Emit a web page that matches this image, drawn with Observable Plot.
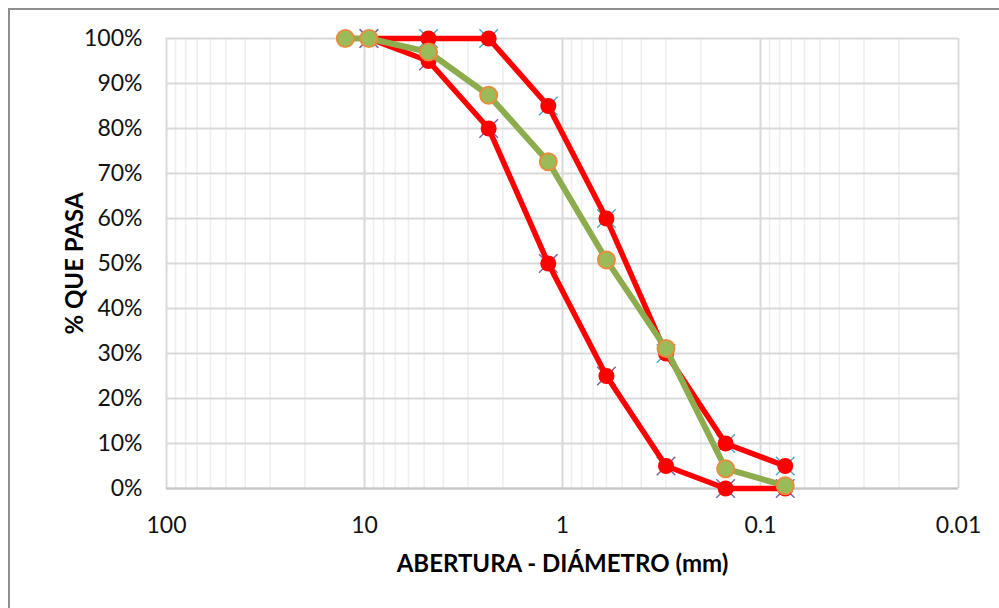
<!DOCTYPE html>
<html>
<head>
<meta charset="utf-8">
<script src="https://cdn.jsdelivr.net/npm/d3@7"></script>
<script src="https://cdn.jsdelivr.net/npm/@observablehq/plot@0.6"></script>
<style>
  html, body { margin: 0; padding: 0; background: #fff; overflow: hidden; }
  #wrap { position: relative; width: 999px; height: 608px; overflow: hidden; }
  #border { position: absolute; left: 8px; top: 8px; width: 1100px; height: 800px; border: 2px solid #8e8e8e; box-sizing: border-box; pointer-events: none; }
  #chart { position: absolute; left: 0; top: 0; }
</style>
</head>
<body>
<div id="wrap"><div id="chart"></div><div id="border"></div></div>
<script>
// Sample gradation (sieve opening mm, % passing)
const sampleSizes = [12.5, 9.5, 4.75, 2.36, 1.18, 0.6, 0.3, 0.15, 0.075];
const samplePass = [100, 100, 97.0, 87.4, 72.6, 50.8, 31.1, 4.4, 0.6];
// Specification limits
const limitSizes = [9.5, 4.75, 2.36, 1.18, 0.6, 0.3, 0.15, 0.075];
const upperLimit = [100, 100, 100, 85, 60, 30, 10, 5];
const lowerLimit = [100, 95, 80, 50, 25, 5, 0, 0];
// Axis ticks
const xTicks = [100, 10, 1, 0.1, 0.01];
const yTicks = [0, 10, 20, 30, 40, 50, 60, 70, 80, 90, 100];
const xTitle = "ABERTURA - DIÁMETRO (mm)";
const yTitle = "% QUE PASA";

const minorX = [];
for (const e of [-2, -1, 0, 1]) for (const m of [2,3,4,5,6,7,8,9]) minorX.push(m * Math.pow(10, e));

const sample = sampleSizes.map((s, i) => ({s, v: samplePass[i]}));
const upper = limitSizes.map((s, i) => ({s, v: upperLimit[i]}));
const lower = limitSizes.map((s, i) => ({s, v: lowerLimit[i]}));

const chart = Plot.plot({
  width: 999,
  height: 608,
  marginLeft: 166,
  marginRight: 41,
  marginTop: 38,
  marginBottom: 120,
  style: {fontFamily: "Lato, 'Noto Sans', sans-serif", fontSize: "23px", color: "#111", background: "transparent"},
  x: {type: "log", domain: [100, 0.01], ticks: xTicks, tickFormat: d => String(d), tickSize: 0, tickPadding: 28, label: null},
  y: {domain: [0, 100], ticks: yTicks, tickFormat: d => d + "%", tickSize: 0, tickPadding: 24, label: null},
  marks: [
    Plot.ruleX(minorX, {stroke: "#eeeeee", strokeWidth: 1.5}),
    Plot.ruleX(xTicks, {stroke: "#d9d9d9", strokeWidth: 2}),
    Plot.ruleY(yTicks, {stroke: "#d9d9d9", strokeWidth: 2}),
    Plot.ruleY([0], {stroke: "#c4c4c4", strokeWidth: 2}),
    Plot.dot(upper, {x: "s", y: "v", symbol: "times", r: 8.5, stroke: "#4bacc6", strokeWidth: 1.5}),
    Plot.dot(lower, {x: "s", y: "v", symbol: "times", r: 8.5, stroke: "#8064a2", strokeWidth: 1.5}),
    Plot.line(upper, {x: "s", y: "v", stroke: "#ff0000", strokeWidth: 5.5}),
    Plot.line(lower, {x: "s", y: "v", stroke: "#ff0000", strokeWidth: 5.5}),
    Plot.dot(upper, {x: "s", y: "v", r: 8, fill: "#ff0000"}),
    Plot.dot(lower, {x: "s", y: "v", r: 8, fill: "#ff0000"}),
    Plot.line(sample, {x: "s", y: "v", stroke: "#8cac4e", strokeWidth: 6}),
    Plot.dot(sample, {x: "s", y: "v", r: 8.5, fill: "#9bbb59", stroke: "#e58e3e", strokeWidth: 2}),
    Plot.text([0], {frameAnchor: "bottom", text: () => xTitle, dy: 76, fontWeight: "bold", fontSize: 24, textAnchor: "middle", lineAnchor: "middle", fill: "#000"}),
    Plot.text([0], {frameAnchor: "left", text: () => yTitle, dx: -91, rotate: -90, fontWeight: "bold", fontSize: 24, textAnchor: "middle", lineAnchor: "middle", fill: "#000"})
  ]
});
document.getElementById("chart").appendChild(chart);
</script>
</body>
</html>
